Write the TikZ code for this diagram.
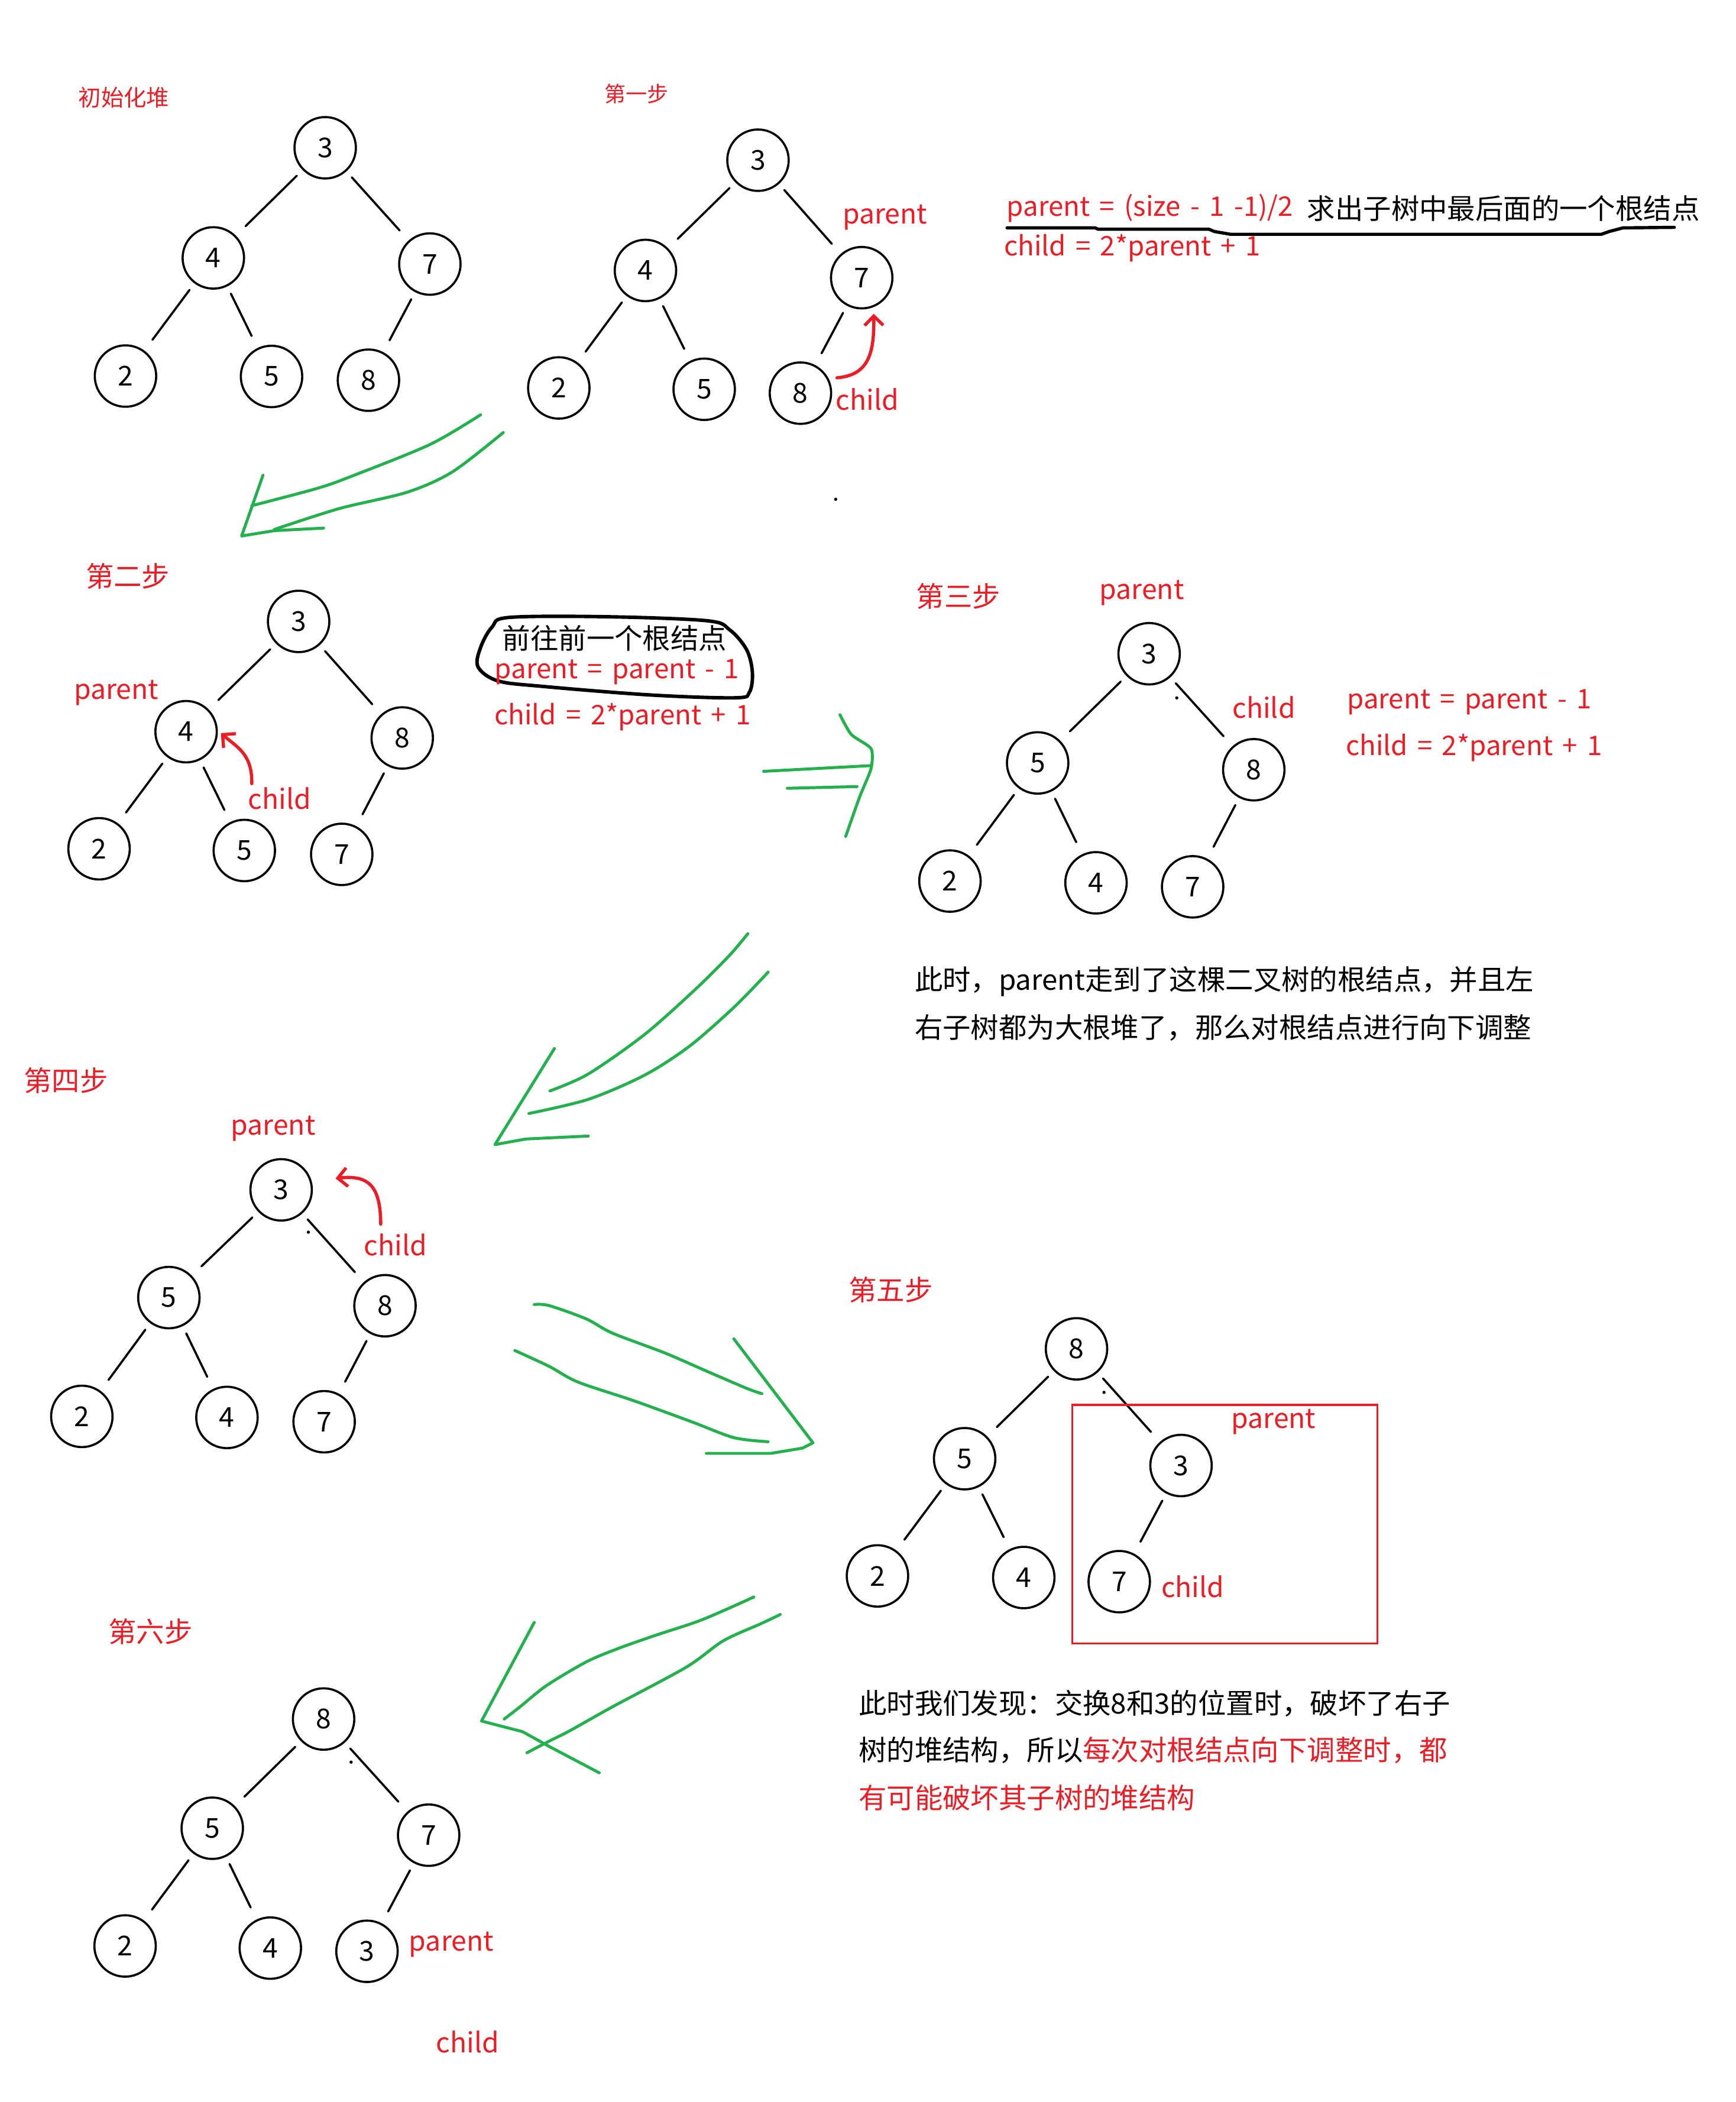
\documentclass[tikz,border=0pt]{standalone}
\usepackage{fontspec}
\setmainfont{Noto Sans CJK SC}[WordSpace=1.6]
\usetikzlibrary{arrows.meta}
\definecolor{rd}{RGB}{237,28,36}
\definecolor{gn}{RGB}{34,177,76}
\newcommand\myfs[1]{\fontsize{#1}{#1}\selectfont}
\begin{document}
\begin{tikzpicture}[x=1pt,y=-1pt,
  vtx/.style={circle,draw,line width=1.6pt,minimum size=46pt,inner sep=0pt,font=\myfs{20.5}},
  edg/.style={line width=1.6pt,line cap=round,shorten <=6pt,shorten >=10pt},
  rlbl/.style={text=rd,inner sep=0pt,font=\myfs{20.5}},
  ttl/.style={text=rd,inner sep=0pt,font=\myfs{21}},
  txt/.style={inner sep=0pt,font=\myfs{21},anchor=west},
  fml/.style={inner sep=0pt,font=\myfs{20.2},text=rd},
  gstroke/.style={draw=gn,line width=2.2pt,line cap=round,line join=round},
  rarrow/.style={draw=rd,line width=2.4pt,line cap=round,-{Straight Barb[length=7pt,width=14pt]}}
]
\fill[white] (0,0) rectangle (1300,1574.6);
\useasboundingbox (0,0) rectangle (1300,1574.6);

% ---------- initial heap ----------
\node[ttl,font=\myfs{17}] (t0) at (92.8,72.9) {初始化堆};
\node[vtx] (a3) at (243.6,110.7) {3};
\node[vtx] (a4) at (159.8,193.2) {4};
\node[vtx] (a7) at (322,197.8) {7};
\node[vtx] (a2) at (94,281.7) {2};
\node[vtx] (a5) at (203.4,282) {5};
\node[vtx] (a8) at (276,284.8) {8};
\foreach \p/\c in {a3/a4,a3/a7,a4/a2,a4/a5,a7/a8} \draw[edg] (\p) -- (\c);

% ---------- step 1 ----------
\node[ttl,font=\myfs{16}] (t1) at (476.9,70.3) {第一步};
\node[vtx] (b3) at (567.8,120) {3};
\node[vtx] (b4) at (483.5,202.6) {4};
\node[vtx] (b7) at (645.5,208) {7};
\node[vtx] (b2) at (418.6,290.6) {2};
\node[vtx] (b5) at (527.5,291.6) {5};
\node[vtx] (b8) at (599.6,294.5) {8};
\foreach \p/\c in {b3/b4,b3/b7,b4/b2,b4/b5,b7/b8} \draw[edg] (\p) -- (\c);
\node[rlbl,anchor=west] (bpar) at (631,163) {parent};
\node[rlbl,anchor=west] (bchi) at (626,299) {child};
\coordinate (ra1) at (627,283);
\draw[rarrow,shorten >=5pt] (ra1) .. controls (650,281) and (655,266) .. (b7.-68);
\fill (626,374) circle (1.2pt);

\node[fml,anchor=west] (f1) at (754,156) {parent = (size - 1 -1)/2};
\node[txt] (f1b) at (979,156) {求出子树中最后面的一个根结点};
\node[fml,anchor=west] (f2) at (752,186) {child = 2*parent + 1};
\draw[line width=2.4pt,line cap=round,line join=round]
  (754.4,170.7) -- (820.5,170.7) -- (822.5,171.7) -- (905.6,171.7) -- (909.6,173.4)
  -- (921.8,175.5) -- (1199.5,175.5) -- (1205.5,173.4) -- (1215.7,170.7) -- (1254.2,170.3);

% green arrow 1
\draw[gstroke] plot[smooth] coordinates {(360,310.7) (322,333) (262.7,357) (237,366) (188.6,378.8)};
\draw[gstroke] plot[smooth] coordinates {(377,324) (339,353.4) (305,368.7) (254,381) (205.5,396.6)};
\draw[gstroke] (197,356) -- (181,401.5) -- (205.5,397.5) -- (242.4,395.6);

% ---------- step 2 ----------
\node[ttl] (t2) at (95.8,431.5) {第二步};
\node[vtx] (c3) at (223.7,465.5) {3};
\node[vtx] (c4) at (139.4,548.1) {4};
\node[vtx] (c8) at (301.3,552.8) {8};
\node[vtx] (c2) at (74.2,635.8) {2};
\node[vtx] (c5) at (183,637.1) {5};
\node[vtx] (c7) at (256,640) {7};
\foreach \p/\c in {c3/c4,c3/c8,c4/c2,c4/c5,c8/c7} \draw[edg] (\p) -- (\c);
\node[rlbl] (cpar) at (87,519) {parent};
\node[rlbl] (cchi) at (209.5,598) {child};
\coordinate (ra2) at (188.6,587);
\draw[rarrow,shorten >=3pt] (ra2) .. controls (189,565) and (178,560) .. (c4.2);

\draw[line width=2.6pt,line join=round] plot[smooth cycle,tension=0.55] coordinates {
  (381.4,462.5) (455,462) (529.7,465) (546.6,471.8) (559.3,486.7) (563.6,503.6)
  (561.4,518.5) (551,522.7) (487.3,520.6) (406.8,514.2) (372.9,510) (358,499.4)
  (360.2,484.5) (368.6,469.7)};
\node[inner sep=0pt,font=\myfs{21}] (bx1) at (460.4,478.2) {前往前一个根结点};
\node[fml] (bx2) at (462.2,503.5) {parent = parent - 1};
\node[fml] (bx3) at (466.4,537) {child = 2*parent + 1};

% green double arrow
\draw[gstroke] (572,577.8) -- (652.5,573.5);
\draw[gstroke] (589.8,590.5) -- (642,589.2);
\draw[gstroke] plot[smooth,tension=0.4] coordinates {(629.2,535.4) (637.7,550.2) (652.5,560.8) (652.5,575.7) (644,596.8) (633.5,626.5)};

% ---------- step 3 ----------
\node[ttl] (t3) at (718,446.6) {第三步};
\node[rlbl] (dpar) at (855.3,444) {parent};
\node[vtx] (d3) at (860.8,489.7) {3};
\node[vtx] (d5) at (777.3,571.5) {5};
\node[vtx] (d8) at (939.2,576.6) {8};
\node[vtx] (d2) at (711.6,660) {2};
\node[vtx] (d4) at (821,661.3) {4};
\node[vtx] (d7) at (893.4,664.3) {7};
\foreach \p/\c in {d3/d5,d3/d8,d5/d2,d5/d4,d8/d7} \draw[edg] (\p) -- (\c);
\node[rlbl] (dchi) at (946.8,530) {child};
\fill (881.5,522.8) circle (1.2pt);
\node[fml,anchor=west] (g1) at (1009,526) {parent = parent - 1};
\node[fml,anchor=west] (g2) at (1008,560) {child = 2*parent + 1};
\node[txt] (p1) at (685,735) {此时，parent走到了这棵二叉树的根结点，并且左};
\node[txt] (p2) at (685,770) {右子树都为大根堆了，那么对根结点进行向下调整};

% green arrow 3
\draw[gstroke] plot[smooth] coordinates {(560.2,699.4) (546.6,715.5) (521,741) (483,774.8) (440.7,804.5) (411.9,817.2)};
\draw[gstroke] plot[smooth] coordinates {(575.4,728.2) (550.8,753.6) (517,783.3) (483,805.3) (440.7,823.5) (396.2,834.1)};
\draw[gstroke] (415.3,785.4) -- (370.8,857.4) -- (394,853.2) -- (440.7,851);

% ---------- step 4 ----------
\node[ttl] (t4) at (49.4,809.4) {第四步};
\node[rlbl] (epar) at (204.7,845.5) {parent};
\node[vtx] (e3) at (210.6,891.3) {3};
\node[vtx] (e5) at (126.5,972) {5};
\node[vtx] (e8) at (288.4,978.1) {8};
\node[vtx] (e2) at (61.3,1061) {2};
\node[vtx] (e4) at (170,1061.8) {4};
\node[vtx] (e7) at (242.8,1065) {7};
\foreach \p/\c in {e3/e5,e3/e8,e5/e2,e5/e4,e8/e7} \draw[edg] (\p) -- (\c);
\node[rlbl] (echi) at (296.2,932.5) {child};
\coordinate (ra3) at (285.2,917);
\draw[rarrow,shorten >=18pt] (ra3) .. controls (285,888) and (276,880) .. (e3.16);
\fill (231,923) circle (1.2pt);

% green arrow 4
\draw[gstroke] plot[smooth] coordinates {(400.2,977.2) (411.3,978) (439,987.9) (458.7,998.6) (498.3,1013.6) (530,1027.4) (559.6,1040.1) (570.7,1044)};
\draw[gstroke] plot[smooth] coordinates {(385.6,1011.6) (411.3,1023.5) (433,1035.3) (474.6,1049.2) (518,1065) (549.7,1076.9) (575.4,1080)};
\draw[gstroke] (549.7,1002.9) -- (609,1080.8) -- (601,1084.8) -- (577.4,1088.7) -- (529.1,1088.7);

% ---------- step 5 ----------
\node[ttl] (t5) at (667.2,966) {第五步};
\node[vtx] (f8) at (806.4,1010.4) {8};
\node[vtx] (f5) at (722.6,1092.7) {5};
\node[vtx] (f3) at (884.7,1097.8) {3};
\node[vtx] (f2) at (657.3,1180.5) {2};
\node[vtx] (f4) at (766.9,1181.7) {4};
\node[vtx] (f7) at (838.4,1184.8) {7};
\foreach \p/\c in {f8/f5,f8/f3,f5/f2,f5/f4,f3/f7} \draw[edg] (\p) -- (\c);
\fill (827,1043) circle (1.2pt);
\draw[draw=rd,line width=1.5pt] (803.3,1052.4) rectangle (1031.8,1231.1);
\node[rlbl] (fpar) at (954,1065) {parent};
\node[rlbl] (fchi) at (893.5,1188.5) {child};
\node[txt] (q1) at (643,1276) {此时我们发现：交换8和3的位置时，破坏了右子};
\node[txt] (q2) at (643,1311) {树的堆结构，所以\textcolor{rd}{每次对根结点向下调整时，都}};
\node[txt,text=rd] (q3) at (643,1346.5) {有可能破坏其子树的堆结构};

% green arrow 5
\draw[gstroke] plot[smooth] coordinates {(564.7,1196.3) (526,1213.3) (490.4,1225.2) (462.7,1235) (439,1245) (409.3,1262.7) (389.5,1278.6) (377.7,1287.7)};
\draw[gstroke] plot[smooth] coordinates {(584.5,1209.4) (569.5,1216.5) (541.8,1229.1) (514,1248.9) (458.7,1278.6) (427,1296.4) (411.3,1304.3) (394.7,1313)};
\draw[gstroke] (400.2,1215.3) -- (360.7,1289.2) -- (391.5,1297.2) -- (411.3,1308.2) -- (448.9,1328);

% ---------- step 6 ----------
\node[ttl] (t6) at (112.7,1222) {第六步};
\node[vtx] (g8) at (242.4,1287.7) {8};
\node[vtx] (g5) at (159,1369.5) {5};
\node[vtx] (g7) at (321.1,1374.7) {7};
\node[vtx] (g2) at (93.7,1457.7) {2};
\node[vtx] (g4) at (202.5,1459.3) {4};
\node[vtx] (g3) at (274.9,1461.7) {3};
\foreach \p/\c in {g8/g5,g8/g7,g5/g2,g5/g4,g7/g3} \draw[edg] (\p) -- (\c);
\fill (263,1320) circle (1.2pt);
\node[rlbl] (gpar) at (338.1,1456.5) {parent};
\node[rlbl] (gchi) at (350.4,1529.5) {child};
\end{tikzpicture}
\end{document}
